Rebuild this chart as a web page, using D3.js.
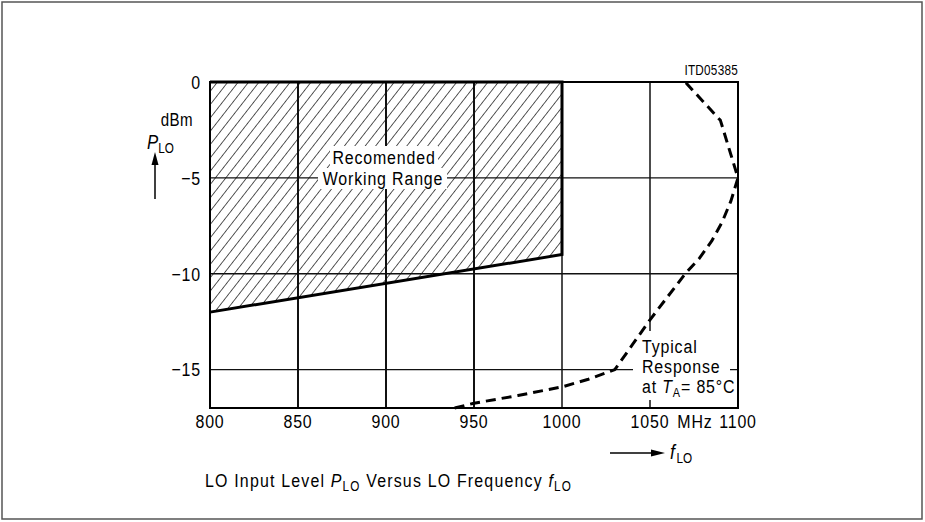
<!DOCTYPE html>
<html><head><meta charset="utf-8">
<script src="https://cdn.jsdelivr.net/npm/d3@7"></script>
<style>
body{margin:0;background:#fff;}
svg text{font-family:"Liberation Sans",Arial,sans-serif;fill:#000;}
</style></head>
<body>
<svg id="c" width="925" height="522"></svg>
<script>
// ---- data ----
const xTickValues = [800, 850, 900, 950, 1000, 1050, 1100];
const xTickLabels = ["800", "850", "900", "950", "1000", "1050", "1100"];
const yTickValues = [0, -5, -10, -15];
const yTickLabels = ["0", "\u22125", "\u221210", "\u221215"];
const xDomain = [800, 1100];
const yDomain = [-17, 0];
// recommended working range (bounded by upper and lower power limits)
const rangeFreq  = [800, 1000];
const rangeUpper = [0, 0];
const rangeLower = [-12, -9];
// typical response at TA = 85 °C
const respFreq  = [939, 950, 975, 1000, 1015, 1030, 1040, 1050, 1060, 1070, 1078, 1085, 1091, 1096, 1100, 1095, 1090, 1080, 1070];
const respPower = [-17, -16.75, -16.35, -15.9, -15.5, -15, -13.7, -12.4, -11.2, -10, -9.2, -8.3, -7.3, -6.2, -5, -3.5, -2, -1, 0];

// ---- drawing ----
const svg = d3.select("#c");
const x = d3.scaleLinear().domain(xDomain).range([210, 738]);
const y = d3.scaleLinear().domain(yDomain).range([408, 82]);
const SX = 0.84;

function label(parent, px, py, anchor, size, ls) {
  const g = parent.append("g").attr("transform", `translate(${px},${py}) scale(${SX},1)`);
  return g.append("text").attr("text-anchor", anchor || "start")
    .style("font-size", (size || 19) + "px").style("letter-spacing", (ls == null ? 1 : ls) + "px");
}

// outer frame
svg.append("rect").attr("x", 2).attr("y", 2).attr("width", 920).attr("height", 517)
  .attr("fill", "none").attr("stroke", "#555").attr("stroke-width", 1.5);

// hatch pattern
const defs = svg.append("defs");
const pat = defs.append("pattern").attr("id", "hatch").attr("patternUnits", "userSpaceOnUse")
  .attr("width", 8.2).attr("height", 20).attr("patternTransform", "rotate(38)");
pat.append("line").attr("x1", 0).attr("y1", 0).attr("x2", 0).attr("y2", 20)
  .attr("stroke", "#000").attr("stroke-width", 1.3);

// hatched area
const area = d3.area().x((d, i) => x(rangeFreq[i])).y0((d, i) => y(rangeLower[i])).y1((d, i) => y(rangeUpper[i]));
svg.append("path").datum(rangeFreq).attr("d", area).attr("fill", "url(#hatch)");

// grid
const gx = xTickValues.filter(v => v > xDomain[0] && v < xDomain[1]);
svg.append("g").selectAll("line").data(gx).join("line")
  .attr("x1", d => x(d)).attr("x2", d => x(d)).attr("y1", y(yDomain[0])).attr("y2", y(yDomain[1]))
  .attr("stroke", "#111").attr("stroke-width", d => d < 1000 ? 2 : 1.5);
const gy = yTickValues.filter(v => v > yDomain[0] && v < yDomain[1]);
svg.append("g").selectAll("line").data(gy).join("line")
  .attr("x1", x(xDomain[0])).attr("x2", x(xDomain[1])).attr("y1", d => y(d)).attr("y2", d => y(d))
  .attr("stroke", "#111").attr("stroke-width", 1.4);

// frame of plot
svg.append("rect").attr("x", x(xDomain[0])).attr("y", y(yDomain[1]))
  .attr("width", x(xDomain[1]) - x(xDomain[0])).attr("height", y(yDomain[0]) - y(yDomain[1]))
  .attr("fill", "none").attr("stroke", "#000").attr("stroke-width", 2);

// working range boundary (thick)
const bline = d3.line();
const bpts = [[x(rangeFreq[0]), y(rangeUpper[0])], [x(rangeFreq[1]), y(rangeUpper[1])],
              [x(rangeFreq[1]), y(rangeLower[1])], [x(rangeFreq[0]), y(rangeLower[0])]];
svg.append("path").attr("d", bline(bpts)).attr("fill", "none").attr("stroke", "#000")
  .attr("stroke-width", 3).attr("stroke-linejoin", "miter");

// label box: Recomended Working Range
const wr = svg.append("g");
wr.append("rect").attr("x", 330).attr("y", 146).attr("width", 108).attr("height", 22).attr("fill", "#fff");
wr.append("rect").attr("x", 318).attr("y", 168).attr("width", 129).attr("height", 21).attr("fill", "#fff");
label(wr, 384, 164, "middle").text("Recomended");
label(wr, 383, 185, "middle").text("Working Range");

// Typical response label box
svg.append("rect").attr("x", 633).attr("y", 331).attr("width", 97).attr("height", 69).attr("fill", "#fff");

// response curve
const rline = d3.line().x((d, i) => x(respFreq[i])).y((d, i) => y(respPower[i]));
svg.append("path").datum(respFreq).attr("d", rline).attr("fill", "none").attr("stroke", "#000")
  .attr("stroke-width", 3).attr("stroke-dasharray", "10,6").attr("stroke-linejoin", "round");

label(svg, 642, 353, "start").text("Typical");
label(svg, 642, 373, "start").text("Response");
const t3 = label(svg, 642, 393, "start");
t3.append("tspan").text("at ");
t3.append("tspan").style("font-style", "italic").text("T");
t3.append("tspan").attr("dy", 4).style("font-size", "13px").text("A");
t3.append("tspan").attr("dy", -4).text("= 85\u00b0C");

// y tick labels
yTickValues.forEach((v, i) => {
  label(svg, 201, y(v), "end").attr("dy", "0.36em").text(yTickLabels[i]);
});

// x tick labels
xTickValues.forEach((v, i) => {
  label(svg, x(v), 428, "middle").text(xTickLabels[i]);
});
label(svg, 695, 428, "middle").text("MHz");

// y axis unit & label
label(svg, 193, 126, "end", 18, 0.5).text("dBm");
const pl = label(svg, 147, 149, "start", 20, 0);
pl.append("tspan").style("font-style", "italic").text("P");
pl.append("tspan").attr("dy", 4).style("font-size", "14px").text("LO");
svg.append("line").attr("x1", 155).attr("x2", 155).attr("y1", 199).attr("y2", 162)
  .attr("stroke", "#000").attr("stroke-width", 1.5);
svg.append("path").attr("d", "M155,152 L151.5,165 L158.5,165 Z").attr("fill", "#000");

// x axis label with arrow
svg.append("line").attr("x1", 610).attr("x2", 652).attr("y1", 453).attr("y2", 453)
  .attr("stroke", "#000").attr("stroke-width", 1.5);
svg.append("path").attr("d", "M665,453 L651,449.5 L651,456.5 Z").attr("fill", "#000");
const fl = label(svg, 670, 459, "start", 21, 0);
fl.append("tspan").style("font-style", "italic").text("f");
fl.append("tspan").attr("dx", 2).attr("dy", 4).style("font-size", "14px").text("LO");

// identifier
label(svg, 738, 75, "end", 14, 0.3).text("ITD05385");

// caption
const cap = label(svg, 205, 487, "start", 19, 1.4);
cap.append("tspan").text("LO Input Level ");
cap.append("tspan").style("font-style", "italic").text("P");
cap.append("tspan").attr("dy", 4).style("font-size", "14px").text("LO");
cap.append("tspan").attr("dy", -4).text(" Versus LO Frequency ");
cap.append("tspan").style("font-style", "italic").text("f");
cap.append("tspan").attr("dy", 4).style("font-size", "14px").text("LO");
</script>
</body></html>
